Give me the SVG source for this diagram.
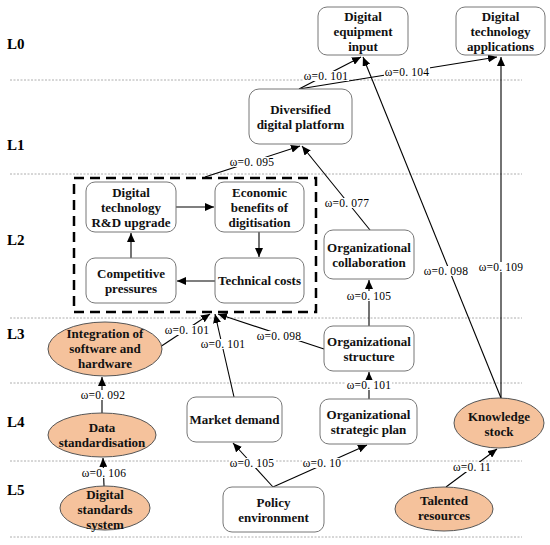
<svg xmlns="http://www.w3.org/2000/svg" width="550" height="545" viewBox="0 0 550 545">
<defs>
<marker id="ah" markerUnits="userSpaceOnUse" markerWidth="10" markerHeight="8" refX="9" refY="4" orient="auto">
<path d="M0,0 L9,4 L0,8 z" fill="#000"/>
</marker>
<style>
.lvl{stroke:#999;stroke-width:0.8;stroke-dasharray:2,1.5;fill:none}
.lv{font-family:"Liberation Serif",serif;font-weight:bold;font-size:15px;fill:#000}
.box{fill:#fff;stroke:#777;stroke-width:1}
.ell{fill:#F5C29C;stroke:#555;stroke-width:1}
.t{font-family:"Liberation Serif",serif;font-weight:bold;font-size:13px;fill:#111;text-anchor:middle}
.c{stroke:#000;stroke-width:1.1;fill:none;marker-end:url(#ah)}
.bg{fill:#fff;stroke:none}
.w{font-family:"Liberation Serif",serif;font-size:11.5px;fill:#000;text-anchor:middle;letter-spacing:0.2px}
.dbox{fill:none;stroke:#000;stroke-width:2.5;stroke-dasharray:10,6}
</style>
</defs>
<rect width="550" height="545" fill="#fff"/>
<g id="levels">
<line class="lvl" x1="10" y1="80" x2="522" y2="80"/>
<line class="lvl" x1="10" y1="174" x2="522" y2="174"/>
<line class="lvl" x1="10" y1="318" x2="522" y2="318"/>
<line class="lvl" x1="10" y1="383" x2="522" y2="383"/>
<line class="lvl" x1="10" y1="461" x2="522" y2="461"/>
<line class="lvl" x1="10" y1="537" x2="522" y2="537"/>
<text class="lv" x="7" y="49">L0</text>
<text class="lv" x="7" y="150">L1</text>
<text class="lv" x="7" y="245">L2</text>
<text class="lv" x="7" y="339">L3</text>
<text class="lv" x="7" y="427">L4</text>
<text class="lv" x="7" y="495">L5</text>
</g>
<g id="connectors">
<line class="c" x1="299" y1="89" x2="361" y2="57"/>
<line class="c" x1="299" y1="89" x2="497" y2="57"/>
<line class="c" x1="205" y1="177" x2="300" y2="146"/>
<line class="c" x1="370" y1="230" x2="302" y2="146"/>
<line class="c" x1="501" y1="398" x2="363" y2="57"/>
<line class="c" x1="501" y1="398" x2="501" y2="57"/>
<line class="c" x1="369" y1="326" x2="369" y2="280"/>
<line class="c" x1="160" y1="347" x2="210" y2="314"/>
<line class="c" x1="234" y1="397" x2="215" y2="314"/>
<line class="c" x1="324" y1="349" x2="218" y2="314"/>
<line class="c" x1="369" y1="399" x2="369" y2="372"/>
<line class="c" x1="102" y1="413" x2="102" y2="377"/>
<line class="c" x1="104" y1="486" x2="103" y2="458"/>
<line class="c" x1="273" y1="487" x2="233" y2="443"/>
<line class="c" x1="273" y1="487" x2="367" y2="445"/>
<line class="c" x1="446" y1="487" x2="497" y2="449"/>
<line class="c" x1="176" y1="207" x2="214" y2="207"/>
<line class="c" x1="259" y1="232" x2="259" y2="257"/>
<line class="c" x1="215" y1="281" x2="177" y2="281"/>
<line class="c" x1="131" y1="258" x2="131" y2="233"/>
<rect class="bg" x="303" y="71" width="46" height="10"/>
<rect class="bg" x="384" y="67" width="46" height="10"/>
<rect class="bg" x="229" y="157" width="46" height="10"/>
<rect class="bg" x="324" y="198" width="46" height="10"/>
<rect class="bg" x="423" y="266" width="46" height="10"/>
<rect class="bg" x="478" y="262" width="46" height="10"/>
<rect class="bg" x="346" y="291" width="46" height="10"/>
<rect class="bg" x="164" y="325" width="46" height="10"/>
<rect class="bg" x="200" y="339" width="46" height="10"/>
<rect class="bg" x="256" y="331" width="46" height="10"/>
<rect class="bg" x="346" y="380" width="46" height="10"/>
<rect class="bg" x="80" y="390" width="46" height="10"/>
<rect class="bg" x="81" y="468" width="46" height="10"/>
<rect class="bg" x="229" y="458" width="46" height="10"/>
<rect class="bg" x="302" y="458" width="40" height="10"/>
<rect class="bg" x="452" y="462" width="40" height="10"/>
<text class="w" x="326" y="80">ω=0. 101</text>
<text class="w" x="407" y="76">ω=0. 104</text>
<text class="w" x="252" y="166">ω=0. 095</text>
<text class="w" x="347" y="207">ω=0. 077</text>
<text class="w" x="446" y="275">ω=0. 098</text>
<text class="w" x="501" y="271">ω=0. 109</text>
<text class="w" x="369" y="300">ω=0. 105</text>
<text class="w" x="187" y="334">ω=0. 101</text>
<text class="w" x="223" y="348">ω=0. 101</text>
<text class="w" x="279" y="340">ω=0. 098</text>
<text class="w" x="369" y="389">ω=0. 101</text>
<text class="w" x="103" y="399">ω=0. 092</text>
<text class="w" x="104" y="477">ω=0. 106</text>
<text class="w" x="252" y="467">ω=0. 105</text>
<text class="w" x="322" y="467">ω=0. 10</text>
<text class="w" x="472" y="471">ω=0. 11</text>
</g>
<g id="n-loop"><rect class="dbox" x="74" y="178" width="242" height="134"/></g>
<g id="n-equip"><rect class="box" x="318" y="7" width="90" height="48" rx="9"/>
<text class="t" x="363" y="20.5">Digital</text><text class="t" x="363" y="35.5">equipment</text><text class="t" x="363" y="50.5">input</text></g>
<g id="n-apps"><rect class="box" x="456" y="7" width="89" height="48" rx="9"/>
<text class="t" x="500.5" y="20.5">Digital</text><text class="t" x="500.5" y="35.5">technology</text><text class="t" x="500.5" y="50.5">applications</text></g>
<g id="n-platform"><rect class="box" x="249" y="89" width="103" height="55" rx="10"/>
<text class="t" x="300.5" y="113.5">Diversified</text><text class="t" x="300.5" y="128.5">digital platform</text></g>
<g id="n-rd"><rect class="box" x="86" y="182" width="90" height="50" rx="9"/>
<text class="t" x="131" y="196.5">Digital</text><text class="t" x="131" y="211.5">technology</text><text class="t" x="131" y="226.5">R&amp;D upgrade</text></g>
<g id="n-econ"><rect class="box" x="215" y="182" width="89" height="50" rx="9"/>
<text class="t" x="259.5" y="196.5">Economic</text><text class="t" x="259.5" y="211.5">benefits of</text><text class="t" x="259.5" y="226.5">digitisation</text></g>
<g id="n-comp"><rect class="box" x="86" y="258" width="90" height="45" rx="9"/>
<text class="t" x="131" y="277.5">Competitive</text><text class="t" x="131" y="292.5">pressures</text></g>
<g id="n-tech"><rect class="box" x="215" y="258" width="89" height="45" rx="9"/>
<text class="t" x="259.5" y="285">Technical costs</text></g>
<g id="n-collab"><rect class="box" x="324" y="230" width="90" height="49" rx="9"/>
<text class="t" x="369" y="251.5">Organizational</text><text class="t" x="369" y="266.5">collaboration</text></g>
<g id="n-structure"><rect class="box" x="324" y="326" width="90" height="45" rx="9"/>
<text class="t" x="369" y="345.5">Organizational</text><text class="t" x="369" y="360.5">structure</text></g>
<g id="n-market"><rect class="box" x="187" y="397" width="95" height="45" rx="9"/>
<text class="t" x="234.5" y="424">Market demand</text></g>
<g id="n-plan"><rect class="box" x="320" y="399" width="97" height="45" rx="9"/>
<text class="t" x="368.5" y="418.5">Organizational</text><text class="t" x="368.5" y="433.5">strategic plan</text></g>
<g id="n-policy"><rect class="box" x="223" y="487" width="101" height="45" rx="9"/>
<text class="t" x="273.5" y="506.5">Policy</text><text class="t" x="273.5" y="521.5">environment</text></g>
<g id="n-integration"><ellipse class="ell" cx="105" cy="349" rx="57" ry="27"/>
<text class="t" x="105" y="337.5">Integration of</text><text class="t" x="105" y="352.5">software and</text><text class="t" x="105" y="367.5">hardware</text></g>
<g id="n-data"><ellipse class="ell" cx="102" cy="435" rx="54" ry="22"/>
<text class="t" x="102" y="431.5">Data</text><text class="t" x="102" y="446.5">standardisation</text></g>
<g id="n-standards"><ellipse class="ell" cx="105" cy="508" rx="45" ry="22"/>
<text class="t" x="105" y="498.5">Digital</text><text class="t" x="105" y="513.5">standards</text><text class="t" x="105" y="528.5">system</text></g>
<g id="n-knowledge"><ellipse class="ell" cx="499" cy="423" rx="45" ry="25"/>
<text class="t" x="499" y="421">Knowledge</text><text class="t" x="499" y="436">stock</text></g>
<g id="n-talent"><ellipse class="ell" cx="444" cy="509" rx="49" ry="22"/>
<text class="t" x="444" y="505">Talented</text><text class="t" x="444" y="520">resources</text></g>
</svg>
